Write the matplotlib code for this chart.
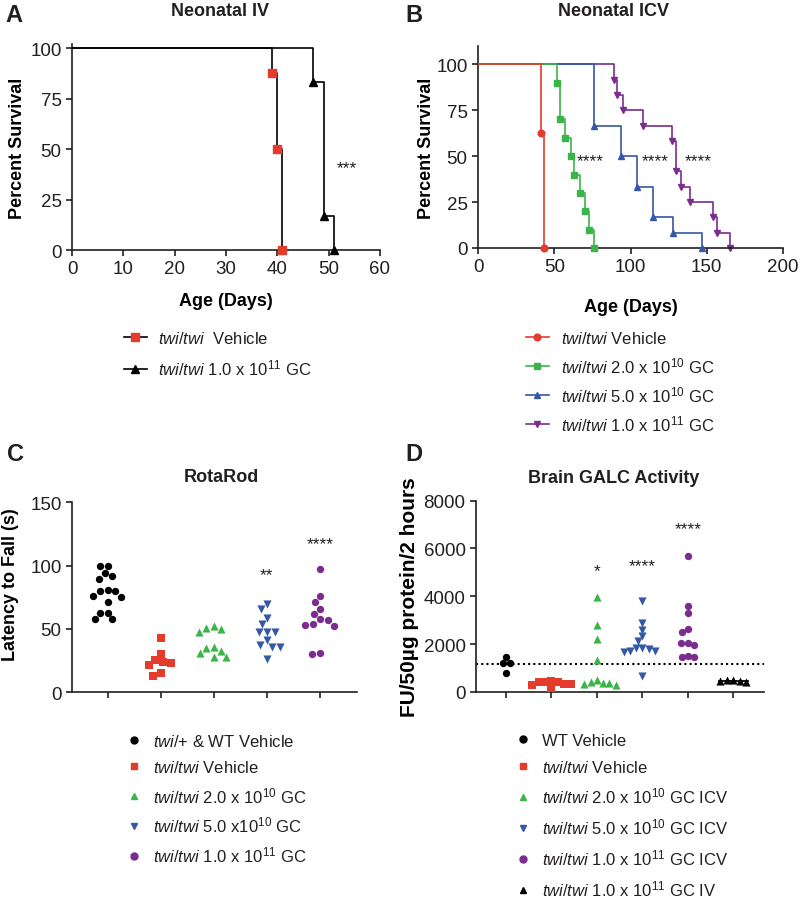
import numpy as np
import matplotlib
matplotlib.use('Agg')
import matplotlib.pyplot as plt
from matplotlib.lines import Line2D

plt.rcParams['font.family'] = ['Liberation Sans', 'DejaVu Sans']
plt.rcParams['mathtext.fontset'] = 'custom'
plt.rcParams['mathtext.rm'] = 'Liberation Sans'
plt.rcParams['mathtext.it'] = 'Liberation Sans:italic'
plt.rcParams['mathtext.bf'] = 'Liberation Sans:bold'
plt.rcParams['text.color'] = '#231f20'
plt.rcParams['xtick.color'] = '#231f20'
plt.rcParams['ytick.color'] = '#231f20'

# colours
red = '#E53B2C'
green = '#3BB54A'
blue = '#3458A6'
purple = '#7B2C8F'
black = '#000000'

# ---- A: neonatal IV survival (event day, percent surviving after event)
a_veh_days = [39, 40, 41]
a_veh_surv = [87.5, 50, 0]
a_iv_days = [47, 49, 51]
a_iv_surv = [83.3, 16.7, 0]

# ---- B: neonatal ICV survival
b_veh_days = [41, 43]
b_veh_surv = [62.5, 0]
b_lo_days = [52, 54, 57, 61, 63, 67, 70, 73, 76]
b_lo_surv = [90, 70, 60, 50, 40, 30, 20, 10, 0]
b_mid_days = [76, 94, 104, 115, 128, 147]
b_mid_surv = [66.7, 50, 33.3, 16.7, 8.3, 0]
b_hi_days = [89, 91, 95, 108, 127, 130, 133, 139, 154, 157, 165]
b_hi_surv = [91.7, 83.3, 75, 66.7, 58.3, 41.7, 33.3, 25, 16.7, 8.3, 0]

# ---- C: RotaRod latency (s)
c_wt = [100, 100, 94, 91.5, 89.5, 80, 81, 80, 75.5, 76, 71, 63, 63, 58, 58]
c_veh = [43, 30, 21.5, 24, 23, 25.5, 15, 12.5]
c_lo = [52, 50, 48, 51, 35, 36, 31, 33, 28, 28]
c_mid = [70, 66, 59, 54, 48, 47.5, 48, 41, 36, 36, 37.5, 26]
c_hi = [97, 76, 71, 66, 62, 57, 57.5, 54, 52.5, 53.5, 30.5, 31]

# ---- D: brain GALC activity
d_wt = [1450, 1200, 1200, 800]
d_veh = [440, 420, 430, 400, 330, 300, 320, 150]
d_lo = [3980, 2810, 2190, 1340, 480, 380, 330, 300, 350, 400]
d_mid = [3800, 2880, 2600, 2320, 2140, 1850, 1820, 1800, 1700, 1650, 1720, 680]
d_hi = [5700, 3600, 3280, 2520, 2620, 2050, 1950, 2050, 1500, 1450, 1450]
d_iv = [480, 450, 470, 430, 500]

W, H = 800, 903
fig = plt.figure(figsize=(W / 100, H / 100), dpi=100)


def box(left, right, top, bottom):
    return [left / W, 1 - bottom / H, (right - left) / W, (bottom - top) / H]


def style(ax):
    for s in ['top', 'right']:
        ax.spines[s].set_visible(False)
    for s in ['left', 'bottom']:
        ax.spines[s].set_linewidth(1.2)
        ax.spines[s].set_color('#231f20')
    ax.tick_params(direction='out', length=4.5, width=1.2, labelsize=13.5, pad=3)


def surv_curve(ax, days, surv, lc, mc, marker, ms, z):
    ax.step([0] + days, [100] + surv, where='post', color=lc, lw=1.2, zorder=z)
    ax.plot(days, surv, ls='', marker=marker, color=mc, ms=ms, mec=mc,
            clip_on=False, zorder=z + 0.5)


def swarm(ax, xc, vals, diam):
    vals = np.asarray(vals, dtype=float)
    pts = ax.transData.transform(np.column_stack([np.full(len(vals), xc), vals]))
    ys = pts[:, 1]
    order = np.argsort(-vals, kind='stable')
    placed = []
    dx = np.zeros(len(vals))
    for i in order:
        y = ys[i]
        cands = [0.0]
        blocks = []
        for pdx, py in placed:
            dy = abs(y - py)
            if dy < diam:
                w = np.sqrt(diam ** 2 - dy ** 2)
                blocks.append((pdx - w, pdx + w))
                cands += [pdx - w, pdx + w]
        cands.sort(key=lambda c: (abs(c), c))
        for c in cands:
            if all(not (lo + 1e-6 < c < hi - 1e-6) for lo, hi in blocks):
                dx[i] = c
                break
        placed.append((dx[i], y))
    ppu = ax.transData.transform([(1, 0)])[0, 0] - ax.transData.transform([(0, 0)])[0, 0]
    return xc + dx / ppu, vals


# ================= A
axA = fig.add_axes(box(72, 380, 45, 251))
style(axA)
surv_curve(axA, a_veh_days, a_veh_surv, black, red, 's', 5.3, 3)
surv_curve(axA, a_iv_days, a_iv_surv, black, black, '^', 5.3, 3)
axA.set_xlim(0, 60)
axA.set_ylim(0, 102)
axA.set_xticks(range(0, 61, 10))
axA.set_yticks([0, 25, 50, 75, 100])
axA.set_ylabel('Percent Survival', fontsize=13, fontweight='bold')
axA.yaxis.set_label_coords(-0.15, 0.5)
axA.set_xlabel('Age (Days)', fontsize=13, fontweight='bold')
axA.xaxis.set_label_coords(0.5, -0.205)
axA.text(53.5, 38.8, '***', ha='center', va='baseline', fontsize=12.5)

# ================= B
axB = fig.add_axes(box(478, 783, 47, 249))
style(axB)
surv_curve(axB, b_hi_days, b_hi_surv, purple, purple, 'v', 4.8, 2)
surv_curve(axB, b_mid_days, b_mid_surv, blue, blue, '^', 4.8, 3)
surv_curve(axB, b_lo_days, b_lo_surv, green, green, 's', 4.5, 4)
surv_curve(axB, b_veh_days, b_veh_surv, red, red, 'o', 4.8, 5)
axB.set_xlim(0, 200)
axB.set_ylim(0, 110)
axB.set_xticks(range(0, 201, 50))
axB.set_yticks([0, 25, 50, 75, 100])
axB.set_ylabel('Percent Survival', fontsize=13, fontweight='bold')
axB.yaxis.set_label_coords(-0.142, 0.5)
axB.set_xlabel('Age (Days)', fontsize=13, fontweight='bold')
axB.xaxis.set_label_coords(0.5, -0.25)
for xs in [73.4, 116, 144.5]:
    axB.text(xs, 44.9, '****', ha='center', va='baseline', fontsize=12.5)

# ================= C
axC = fig.add_axes(box(72, 356.7, 503.3, 693.3))
style(axC)
axC.set_xlim(0.33, 5.69)
axC.set_ylim(0, 150)
axC.set_yticks([0, 50, 100, 150])
axC.set_xticks(range(1, 6))
axC.set_xticklabels([])
c_groups = [(c_wt, black, 'o', 28), (c_veh, red, 's', 30), (c_lo, green, '^', 34),
            (c_mid, blue, 'v', 34), (c_hi, purple, 'o', 28)]
for k, (vals, col, mk, s) in enumerate(c_groups):
    xs, ys = swarm(axC, k + 1, vals, 8.0)
    axC.scatter(xs, ys, s=s, marker=mk, color=col, linewidths=0, clip_on=False, zorder=3)
axC.set_ylabel('Latency to Fall (s)', fontsize=13, fontweight='bold')
axC.yaxis.set_label_coords(-0.186, 0.57)
axC.text(4, 89.7, '**', ha='center', va='baseline', fontsize=12.5)
axC.text(5, 113.9, '****', ha='center', va='baseline', fontsize=12.5)

# ================= D
axD = fig.add_axes(box(476, 764.3, 501.7, 692.8))
style(axD)
axD.set_xlim(0.34, 6.68)
axD.set_ylim(0, 8000)
axD.set_yticks([0, 2000, 4000, 6000, 8000])
axD.set_xticks(range(1, 7))
axD.set_xticklabels([])
axD.axhline(np.mean(d_wt), color=black, lw=1.5, ls=(0, (1, 1.5)), zorder=1)
d_groups = [(d_wt, black, 'o', 28), (d_veh, red, 's', 30), (d_lo, green, '^', 34),
            (d_mid, blue, 'v', 34), (d_hi, purple, 'o', 28), (d_iv, black, '^', 34)]
for k, (vals, col, mk, s) in enumerate(d_groups):
    xs, ys = swarm(axD, k + 1, vals, 6.5)
    axD.scatter(xs, ys, s=s, marker=mk, color=col, linewidths=0, clip_on=False, zorder=3)
axD.plot([6 - 0.32, 6 + 0.32], [np.mean(d_iv)] * 2, color=black, lw=1.3, zorder=4)
axD.set_ylabel('FU/50µg protein/2 hours', fontsize=15, fontweight='bold')
axD.yaxis.set_label_coords(-0.196, 0.5)
axD.text(3, 4870, '*', ha='center', va='baseline', fontsize=12.5)
axD.text(4, 5109, '****', ha='center', va='baseline', fontsize=12.5)
axD.text(5, 6657, '****', ha='center', va='baseline', fontsize=12.5)

# ================= titles and panel letters
for (x, y, t) in [(220, 12, 'Neonatal IV'), (614, 12, 'Neonatal ICV'),
                  (221, 478, 'RotaRod'), (614, 479, 'Brain GALC Activity')]:
    fig.text(x / W, 1 - y / H, t, ha='center', va='center', fontsize=13, fontweight='bold')
for (x, y, t) in [(14, 15, 'A'), (414, 15, 'B'), (15, 455, 'C'), (414, 455, 'D')]:
    fig.text(x / W, 1 - y / H, t, ha='center', va='center', fontsize=17, fontweight='bold')

# ================= legends
tt = r'$\mathit{twi/twi}$'


def legend(handles, labels, x, y, hl, htp, ls):
    fig.legend(handles, labels, loc='upper left', bbox_to_anchor=(x / W, 1 - y / H),
               frameon=False, borderpad=0, borderaxespad=0, handlelength=hl,
               handletextpad=htp, labelspacing=ls, fontsize=12)


def lh(col, mcol, mk, ms):
    return Line2D([], [], color=col, lw=1.2, marker=mk, mfc=mcol, mec=mcol, ms=ms)


def mh(col, mk, ms):
    return Line2D([], [], ls='', marker=mk, color=col, ms=ms)


legend([lh(black, red, 's', 5.3), lh(black, black, '^', 5.3)],
       [tt + '  Vehicle', tt + r' 1.0 x 10$^{11}$ GC'], 124, 331, 1.35, 0.7, 0.72)
legend([lh(red, red, 'o', 4.8), lh(green, green, 's', 4.5), lh(blue, blue, '^', 4.8),
        lh(purple, purple, 'v', 4.8)],
       [tt + ' Vehicle', tt + r' 2.0 x 10$^{10}$ GC', tt + r' 5.0 x 10$^{10}$ GC',
        tt + r' 1.0 x 10$^{11}$ GC'], 526, 331, 1.35, 0.75, 0.55)
legend([mh(black, 'o', 5), mh(red, 's', 5), mh(green, '^', 5), mh(blue, 'v', 5),
        mh(purple, 'o', 5)],
       [r'$\mathit{twi/}$+ & WT Vehicle', tt + ' Vehicle', tt + r' 2.0 x 10$^{10}$ GC',
        tt + r' 5.0 x10$^{10}$ GC', tt + r' 1.0 x 10$^{11}$ GC'], 126, 734, 0.9, 0.7, 0.6)
legend([mh(black, 'o', 5), mh(red, 's', 5), mh(green, '^', 5), mh(blue, 'v', 5),
        mh(purple, 'o', 5), mh(black, '^', 5)],
       ['WT Vehicle', tt + ' Vehicle', tt + r' 2.0 x 10$^{10}$ GC ICV',
        tt + r' 5.0 x 10$^{10}$ GC ICV', tt + r' 1.0 x 10$^{11}$ GC ICV',
        tt + r' 1.0 x 10$^{11}$ GC IV'], 515, 734, 0.9, 0.7, 0.66)

fig.savefig('out.png', dpi=100)
